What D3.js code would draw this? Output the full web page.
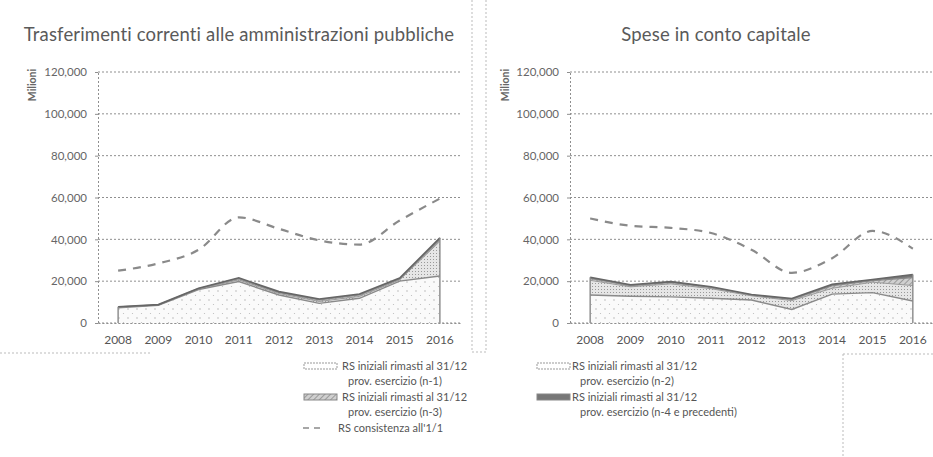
<!DOCTYPE html>
<html>
<head>
<meta charset="utf-8">
<script src="https://cdn.jsdelivr.net/npm/d3@7"></script>
<style>
  html, body { margin: 0; padding: 0; background: #fff; }
  svg { display: block; font-family: Lato, "Open Sans", sans-serif; }
</style>
</head>
<body>
<svg id="chart" width="933" height="457"></svg>
<script>
// Years on the x axis
const years = ["2008", "2009", "2010", "2011", "2012", "2013", "2014", "2015", "2016"];
const yTicks = [0, 20000, 40000, 60000, 80000, 100000, 120000];

// Trasferimenti correnti alle amministrazioni pubbliche (milioni)
const tcN1 = [7300, 8400, 16000, 19800, 13400, 9400, 11800, 20000, 22500];
const tcN2 = [200, 200, 300, 800, 700, 900, 900, 600, 16500];
const tcN3 = [200, 100, 200, 600, 500, 700, 700, 500, 1000];
const tcN4 = [100, 100, 100, 400, 400, 500, 500, 400, 700];
const tcConsistenza = [25000, 28500, 35000, 50500, 45000, 39500, 37500, 49000, 59500];

// Spese in conto capitale (milioni)
const ccN1 = [13400, 12800, 12500, 11800, 11000, 6500, 13800, 14500, 10500];
const ccN2 = [7000, 4500, 6200, 4600, 2000, 4200, 2800, 5000, 7400];
const ccN3 = [900, 600, 700, 600, 400, 600, 1200, 800, 3800];
const ccN4 = [600, 400, 400, 300, 200, 400, 700, 500, 1500];
const ccConsistenza = [50000, 46500, 45500, 43000, 35000, 24000, 31000, 44000, 35500];

const legendLabels = [
  ["RS iniziali rimasti al 31/12", "prov. esercizio (n-1)"],
  ["RS iniziali rimasti al 31/12", "prov. esercizio (n-2)"],
  ["RS iniziali rimasti al 31/12", "prov. esercizio (n-3)"],
  ["RS iniziali rimasti al 31/12", "prov. esercizio (n-4 e precedenti)"],
  ["RS consistenza all'1/1"]
];

const svg = d3.select("#chart");
const defs = svg.append("defs");

// Fill patterns for the stacked layers
const pSparse = defs.append("pattern").attr("id", "pSparse")
  .attr("width", 9).attr("height", 9).attr("patternUnits", "userSpaceOnUse");
pSparse.append("rect").attr("width", 9).attr("height", 9).attr("fill", "#fafafa");
pSparse.append("circle").attr("cx", 2).attr("cy", 3).attr("r", 0.7).attr("fill", "#aaa");
pSparse.append("circle").attr("cx", 6.5).attr("cy", 7.5).attr("r", 0.6).attr("fill", "#bbb");

const pDense = defs.append("pattern").attr("id", "pDense")
  .attr("width", 3).attr("height", 3).attr("patternUnits", "userSpaceOnUse");
pDense.append("rect").attr("width", 3).attr("height", 3).attr("fill", "#e6e6e6");
pDense.append("rect").attr("x", 1).attr("y", 1).attr("width", 1).attr("height", 1).attr("fill", "#999");

const pHatch = defs.append("pattern").attr("id", "pHatch")
  .attr("width", 4).attr("height", 4).attr("patternUnits", "userSpaceOnUse")
  .attr("patternTransform", "rotate(45)");
pHatch.append("rect").attr("width", 4).attr("height", 4).attr("fill", "#d0d0d0");
pHatch.append("line").attr("x1", 0).attr("y1", 0).attr("x2", 0).attr("y2", 4)
  .attr("stroke", "#888").attr("stroke-width", 1.5);

const layerStyles = [
  { fill: "url(#pSparse)", stroke: "#8a8a8a", sw: 1.4 },
  { fill: "url(#pDense)", stroke: "#9a9a9a", sw: 1 },
  { fill: "url(#pHatch)", stroke: "#888", sw: 1.2 },
  { fill: "#777", stroke: "#666", sw: 1.6 }
];

const textColor = "#5a5a5a";
const gridColor = "#8f8f8f";

function drawPanel(cfg) {
  const { x0, x1, title, titleX, layers, line, labelX } = cfg;
  const y = d3.scaleLinear().domain([0, 120000]).range([323, 72]);
  const x = d3.scaleBand().domain(years).range([x0, x1]);
  const cx = d => x(d) + x.bandwidth() / 2;

  const g = svg.append("g");

  // Title
  g.append("text").attr("x", titleX).attr("y", 41)
    .attr("text-anchor", "middle").attr("font-size", 18.5)
    .attr("letter-spacing", 0.15)
    .attr("fill", textColor).text(title);

  // Y axis label
  g.append("text")
    .attr("transform", `translate(${labelX},85) rotate(-90)`)
    .attr("text-anchor", "middle").attr("font-size", 10.5).attr("font-weight", "bold")
    .attr("fill", "#666").text("Milioni");

  // Gridlines
  g.append("g").selectAll("line").data(yTicks).join("line")
    .attr("x1", x0).attr("x2", x1)
    .attr("y1", d => y(d)).attr("y2", d => y(d))
    .attr("stroke", gridColor).attr("stroke-width", 1)
    .attr("stroke-dasharray", "2,2");

  // Y axis
  const yAxis = d3.axisLeft(y).tickValues(yTicks).tickFormat(d3.format(","))
    .tickSize(3).tickPadding(8);
  const ya = g.append("g").attr("transform", `translate(${x0},0)`).call(yAxis);
  ya.select(".domain").attr("stroke", gridColor).attr("stroke-dasharray", "2,2");
  ya.selectAll(".tick line").attr("stroke", gridColor);
  ya.selectAll("text").attr("font-size", 11.5).attr("fill", "#666")
    .attr("font-family", "Lato, sans-serif");

  // X axis labels
  const xAxis = d3.axisBottom(x).tickSize(0).tickPadding(12);
  const xa = g.append("g").attr("transform", `translate(0,${y(0)})`).call(xAxis);
  xa.select(".domain").attr("stroke", gridColor).attr("stroke-dasharray", "2,2");
  xa.selectAll("text").attr("font-size", 12).attr("fill", "#555")
    .attr("font-family", "Lato, sans-serif");

  // Stacked areas
  const table = years.map((yr, i) => ({ year: yr, n1: layers[0][i], n2: layers[1][i], n3: layers[2][i], n4: layers[3][i] }));
  const stack = d3.stack().keys(["n1", "n2", "n3", "n4"])(table);
  const area = d3.area().x(d => cx(d.data.year)).y0(d => y(d[0])).y1(d => y(d[1]));
  const topLine = d3.line().x(d => cx(d.data.year)).y(d => y(d[1]));

  stack.forEach((s, k) => {
    g.append("path").datum(s).attr("d", area)
      .attr("fill", layerStyles[k].fill).attr("stroke", "none");
  });
  stack.forEach((s, k) => {
    g.append("path").datum(s).attr("d", topLine)
      .attr("fill", "none").attr("stroke", layerStyles[k].stroke)
      .attr("stroke-width", layerStyles[k].sw);
  });
  // Closing vertical edges of the stack
  const last = stack[stack.length - 1];
  [0, years.length - 1].forEach(i => {
    g.append("line")
      .attr("x1", cx(years[i])).attr("x2", cx(years[i]))
      .attr("y1", y(0)).attr("y2", y(last[i][1]))
      .attr("stroke", "#888").attr("stroke-width", 1.4);
  });

  // Consistenza dashed line
  const lineGen = d3.line().x((d, i) => cx(years[i])).y(d => y(d)).curve(d3.curveMonotoneX);
  g.append("path").datum(line).attr("d", lineGen)
    .attr("fill", "none").attr("stroke", "#8a8a8a").attr("stroke-width", 2.2)
    .attr("stroke-dasharray", "8,7");
}

drawPanel({
  x0: 98, x1: 460, title: "Trasferimenti correnti alle amministrazioni pubbliche",
  titleX: 239, labelX: 36,
  layers: [tcN1, tcN2, tcN3, tcN4], line: tcConsistenza
});
drawPanel({
  x0: 570, x1: 933, title: "Spese in conto capitale",
  titleX: 716, labelX: 509,
  layers: [ccN1, ccN2, ccN3, ccN4], line: ccConsistenza
});

// Legend
function legendSwatch(x, yc, idx) {
  const st = layerStyles[idx];
  if (idx === 0 || idx === 1) {
    svg.append("rect").attr("x", x).attr("y", yc - 3).attr("width", 33).attr("height", 6)
      .attr("fill", "#fff").attr("stroke", "#999").attr("stroke-width", 1)
      .attr("stroke-dasharray", "2,1");
  } else {
    svg.append("rect").attr("x", x).attr("y", yc - 3).attr("width", 33).attr("height", 6)
      .attr("fill", st.fill).attr("stroke", "#888").attr("stroke-width", 1);
  }
}
function legendText(x, yc, lines, xIndent) {
  lines.forEach((t, j) => {
    svg.append("text").attr("x", j === 0 ? x : x + xIndent).attr("y", yc + j * 15 + 4)
      .attr("font-size", 11).attr("fill", "#555").text(t);
  });
}

legendSwatch(304, 366, 0); legendText(342, 366, legendLabels[0], 6);
legendSwatch(304, 397, 2); legendText(342, 397, legendLabels[2], 6);
svg.append("line").attr("x1", 303).attr("x2", 324).attr("y1", 428).attr("y2", 428)
  .attr("stroke", "#8a8a8a").attr("stroke-width", 1.6).attr("stroke-dasharray", "6,5");
legendText(338, 428, legendLabels[4], 0);

legendSwatch(537, 366, 1); legendText(572, 366, legendLabels[1], 8);
legendSwatch(537, 397, 3); legendText(572, 397, legendLabels[3], 8);

// Panel separators and frame fragments
const frame = svg.append("g").attr("stroke", "#bbb").attr("stroke-width", 1)
  .attr("stroke-dasharray", "2,2").attr("fill", "none");
frame.append("line").attr("x1", 472).attr("x2", 472).attr("y1", 0).attr("y2", 352);
frame.append("line").attr("x1", 486).attr("x2", 486).attr("y1", 0).attr("y2", 352);
frame.append("line").attr("x1", 472).attr("x2", 486).attr("y1", 352).attr("y2", 352);
frame.append("line").attr("x1", 0).attr("x2", 150).attr("y1", 353).attr("y2", 353);
frame.append("line").attr("x1", 843).attr("x2", 933).attr("y1", 354).attr("y2", 354);
frame.append("line").attr("x1", 843).attr("x2", 843).attr("y1", 354).attr("y2", 457);
</script>
</body>
</html>
